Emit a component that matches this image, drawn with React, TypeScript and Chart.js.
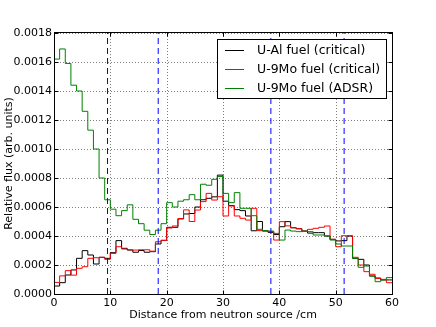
import React, { useEffect, useRef } from "react";
import { Chart, registerables } from "chart.js";

Chart.register(...registerables);

// Left edges of the 1 cm histogram bins (cm); the last bin ends at binEnd.
const binStarts = [
  0, 1, 2, 3, 4, 5, 6, 7, 8, 9, 10, 11, 12, 13, 14, 15, 16, 17, 18, 19,
  20, 21, 22, 23, 24, 25, 26, 27, 28, 29, 30, 31, 32, 33, 34, 35, 36, 37, 38, 39,
  40, 41, 42, 43, 44, 45, 46, 47, 48, 49, 50, 51, 52, 53, 54, 55, 56, 57, 58, 59,
];
const binEnd = 60;

const uAlCritical = [
  0.55e-4, 0.78e-4, 1.31e-4, 1.66e-4, 2.46e-4, 2.99e-4, 2.69e-4, 2.07e-4, 2.53e-4, 2.46e-4,
  2.85e-4, 3.68e-4, 3.15e-4, 3.03e-4, 2.88e-4, 3.0e-4, 2.88e-4, 2.92e-4, 3.45e-4, 3.7e-4,
  4.6e-4, 4.6e-4, 5.18e-4, 5.52e-4, 5.55e-4, 6.0e-4, 6.5e-4, 6.6e-4, 6.7e-4, 8.2e-4,
  6.4e-4, 6.1e-4, 5.82e-4, 5.75e-4, 5.38e-4, 4.36e-4, 5.0e-4, 4.34e-4, 4.25e-4, 4.1e-4,
  4.64e-4, 4.99e-4, 4.57e-4, 4.5e-4, 4.34e-4, 4.2e-4, 4.23e-4, 4.23e-4, 4.0e-4, 3.77e-4,
  3.66e-4, 3.68e-4, 4.0e-4, 2.46e-4, 2.39e-4, 2.0e-4, 1.24e-4, 1.1e-4, 0.97e-4, 0.97e-4,
];

const u9MoCritical = [
  0.8e-4, 1.25e-4, 1.61e-4, 1.3e-4, 1.77e-4, 1.88e-4, 2.46e-4, 2.5e-4, 2.53e-4, 2.39e-4,
  2.8e-4, 3.26e-4, 3.1e-4, 3.05e-4, 3.03e-4, 3.05e-4, 3.05e-4, 2.95e-4, 3.6e-4, 3.7e-4,
  4.55e-4, 4.69e-4, 5.2e-4, 5.8e-4, 5.0e-4, 5.79e-4, 6.37e-4, 6.94e-4, 6.48e-4, 6.71e-4,
  5.38e-4, 6.07e-4, 5.38e-4, 5.22e-4, 5.1e-4, 5.91e-4, 4.37e-4, 4.37e-4, 4.3e-4, 3.72e-4,
  4.99e-4, 4.7e-4, 4.57e-4, 4.5e-4, 4.34e-4, 4.46e-4, 4.53e-4, 4.6e-4, 4.69e-4, 3.77e-4,
  3.26e-4, 4.02e-4, 4.02e-4, 2.53e-4, 2.0e-4, 1.54e-4, 1.36e-4, 1.08e-4, 1.01e-4, 0.78e-4,
];

const u9MoADSR = [
  16.2e-4, 16.9e-4, 15.9e-4, 14.4e-4, 14.0e-4, 12.6e-4, 11.3e-4, 10.0e-4, 8.0e-4, 6.5e-4,
  5.85e-4, 5.4e-4, 5.75e-4, 6.15e-4, 5.15e-4, 4.85e-4, 4.4e-4, 4.1e-4, 4.4e-4, 4.85e-4,
  6.3e-4, 6.0e-4, 6.4e-4, 6.5e-4, 6.85e-4, 6.5e-4, 7.57e-4, 7.5e-4, 7.91e-4, 8.1e-4,
  6.94e-4, 6.3e-4, 6.99e-4, 5.91e-4, 5.91e-4, 5.4e-4, 4.46e-4, 4.37e-4, 4.34e-4, 4.18e-4,
  3.72e-4, 4.41e-4, 4.34e-4, 4.3e-4, 4.34e-4, 4.3e-4, 4.07e-4, 4.07e-4, 4.0e-4, 3.72e-4,
  3.45e-4, 3.31e-4, 3.31e-4, 2.46e-4, 1.84e-4, 1.93e-4, 1.24e-4, 0.85e-4, 0.97e-4, 1.13e-4,
];

const seriesNames = ["U-Al fuel (critical)", "U-9Mo fuel (critical)", "U-9Mo fuel (ADSR)"];
const seriesColors = ["#000000", "#ff0000", "#008000"];

// Region boundaries (cm) drawn as vertical dashed lines
const boundaryLines = [9.5, 18.5, 38.5, 51.5];

const xTicks = [0, 10, 20, 30, 40, 50, 60];
const yTicks = [0, 0.0002, 0.0004, 0.0006, 0.0008, 0.001, 0.0012, 0.0014, 0.0016, 0.0018];

const FONT = "'DejaVu Sans', 'Bitstream Vera Sans', sans-serif";

function histPoints(values: number[]) {
  const pts = binStarts.map((x, i) => ({ x, y: values[i] }));
  pts.push({ x: binEnd, y: values[values.length - 1] });
  return pts;
}

const gridFramePlugin = {
  id: "gridFrame",
  beforeDatasetsDraw(chart: any) {
    const { ctx, chartArea, scales } = chart;
    const { left, right, top, bottom } = chartArea;
    ctx.save();
    ctx.strokeStyle = "rgba(0,0,0,0.5)";
    ctx.lineWidth = 1;
    ctx.setLineDash([1, 2]);
    for (const v of xTicks) {
      const px = Math.round(scales.x.getPixelForValue(v)) + 0.5;
      ctx.beginPath();
      ctx.moveTo(px, top);
      ctx.lineTo(px, bottom);
      ctx.stroke();
    }
    for (const v of yTicks) {
      const py = Math.round(scales.y.getPixelForValue(v)) + 0.5;
      ctx.beginPath();
      ctx.moveTo(left, py);
      ctx.lineTo(right, py);
      ctx.stroke();
    }
    ctx.restore();
  },
  afterDatasetsDraw(chart: any) {
    const { ctx, chartArea, scales } = chart;
    const { left, right, top, bottom } = chartArea;
    ctx.save();
    // vertical dashed boundary lines
    ctx.strokeStyle = "#0000ff";
    ctx.lineWidth = 1;
    ctx.setLineDash([6, 4]);
    for (const v of boundaryLines) {
      const px = scales.x.getPixelForValue(v);
      ctx.beginPath();
      ctx.moveTo(px, bottom);
      ctx.lineTo(px, top);
      ctx.stroke();
    }
    // frame and inward ticks
    ctx.strokeStyle = "#000";
    ctx.setLineDash([]);
    const L = left + 0.5, R = right + 0.5, T = top - 0.5, B = bottom + 0.5;
    ctx.strokeRect(L, T, R - L, B - T);
    const tl = 4;
    ctx.beginPath();
    for (const v of xTicks) {
      const px = Math.round(scales.x.getPixelForValue(v)) + 0.5;
      ctx.moveTo(px, B);
      ctx.lineTo(px, B - tl);
      ctx.moveTo(px, T);
      ctx.lineTo(px, T + tl);
    }
    for (const v of yTicks) {
      const py = Math.round(scales.y.getPixelForValue(v)) + 0.5;
      ctx.moveTo(L, py);
      ctx.lineTo(L + tl, py);
      ctx.moveTo(R, py);
      ctx.lineTo(R - tl, py);
    }
    ctx.stroke();
    ctx.restore();
  },
};

const legendPlugin = {
  id: "boxLegend",
  afterDraw(chart: any) {
    const { ctx } = chart;
    const bx = 217.5, by = 39.5, bw = 169, bh = 59;
    ctx.save();
    ctx.fillStyle = "#ffffff";
    ctx.fillRect(bx, by, bw, bh);
    ctx.strokeStyle = "#000";
    ctx.lineWidth = 1;
    ctx.setLineDash([]);
    ctx.strokeRect(bx, by, bw, bh);
    ctx.font = `12.5px ${FONT}`;
    ctx.textBaseline = "middle";
    ctx.textAlign = "left";
    const rows = [50, 69, 88];
    seriesNames.forEach((name, i) => {
      const y = rows[i] + 0.5;
      ctx.strokeStyle = seriesColors[i];
      ctx.beginPath();
      ctx.moveTo(225, y);
      ctx.lineTo(244, y);
      ctx.stroke();
      ctx.fillStyle = "#000";
      ctx.fillText(name, 257, rows[i] + 1);
    });
    ctx.restore();
  },
};

export default function App() {
  const canvasRef = useRef<HTMLCanvasElement | null>(null);

  useEffect(() => {
    document.body.style.margin = "0";
    const canvas = canvasRef.current;
    if (!canvas) return;

    const seriesValues = [uAlCritical, u9MoCritical, u9MoADSR];

    // first dataset is drawn on top: green (ADSR), red, black
    const seriesDatasets = [2, 1, 0].map((i) => ({
      label: seriesNames[i],
      data: histPoints(seriesValues[i]),
      borderColor: seriesColors[i],
      backgroundColor: seriesColors[i],
      borderWidth: 1,
      pointRadius: 0,
      fill: false,
      stepped: "before" as const,
    }));

    const chart = new Chart(canvas, {
      type: "line",
      data: { datasets: seriesDatasets as any },
      options: {
        animation: false,
        responsive: false,
        devicePixelRatio: 1,
        layout: { padding: { left: 0, top: 33, right: 44, bottom: 0 } },
        plugins: {
          legend: { display: false },
          tooltip: { enabled: false },
        },
        scales: {
          x: {
            type: "linear",
            min: 0,
            max: 60,
            grid: { display: false, drawTicks: false },
            border: { display: false },
            afterBuildTicks: (s: any) => {
              s.ticks = xTicks.map((v) => ({ value: v }));
            },
            afterFit: (s: any) => {
              s.height = 33;
            },
            ticks: {
              color: "#000",
              font: { family: FONT, size: 11 },
              padding: 3,
              maxRotation: 0,
              autoSkip: false,
              callback: (v: any) => String(v),
            },
            title: {
              display: true,
              text: "Distance from neutron source /cm",
              color: "#000",
              font: { family: FONT, size: 11 },
              padding: { top: 0, bottom: 5 },
            },
          },
          y: {
            type: "linear",
            min: 0,
            max: 0.0018,
            grid: { display: false, drawTicks: false },
            border: { display: false },
            afterBuildTicks: (s: any) => {
              s.ticks = yTicks.map((v) => ({ value: v }));
            },
            afterFit: (s: any) => {
              s.width = 54;
            },
            ticks: {
              color: "#000",
              font: { family: FONT, size: 11 },
              padding: 2,
              autoSkip: false,
              callback: (v: any) => Number(v).toFixed(4),
            },
            title: {
              display: true,
              text: "Relative flux (arb. units)",
              color: "#000",
              font: { family: FONT, size: 11 },
              padding: { top: 3, bottom: 0 },
            },
          },
        },
      },
      plugins: [gridFramePlugin, legendPlugin],
    });

    return () => chart.destroy();
  }, []);

  return (
    <canvas
      ref={canvasRef}
      width={436}
      height={327}
      style={{ display: "block", width: "436px", height: "327px" }}
    />
  );
}
